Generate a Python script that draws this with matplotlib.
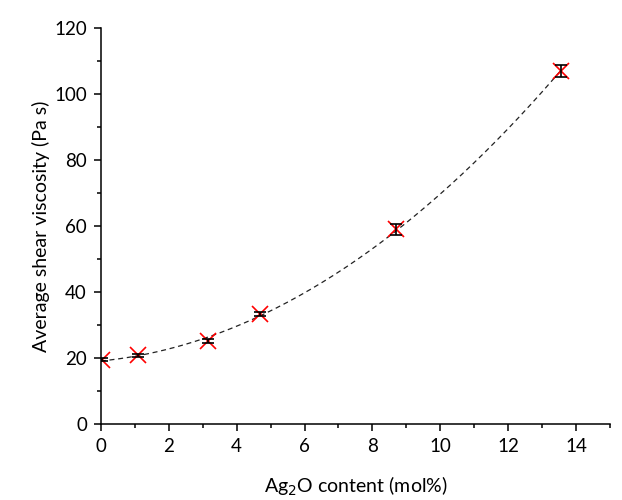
import numpy as np
import matplotlib
matplotlib.use("Agg")
import matplotlib.pyplot as plt
from matplotlib.ticker import MultipleLocator

# Ag2O content (mol%) and average shear viscosity (Pa s)
ag2o = [0.05, 1.1, 3.15, 4.7, 8.7, 13.55]
viscosity = [19.5, 20.8, 25.2, 33.2, 59.0, 107.0]
visc_err = [0.4, 0.5, 0.6, 0.6, 1.6, 1.7]

plt.rcParams['font.family'] = ['Lato', 'DejaVu Sans']

fig = plt.figure(figsize=(6.22, 5.0), dpi=100)
ax = fig.add_axes([0.162, 0.152, 0.819, 0.792])

# quadratic fit through the measured points
coef = np.polyfit(ag2o, viscosity, 2)
xf = np.linspace(0, max(ag2o), 200)
ax.plot(xf, np.polyval(coef, xf), ls=(0, (4, 3)), color='#222222', lw=0.9, zorder=1)

ax.errorbar(ag2o, viscosity, yerr=visc_err, fmt='none', ecolor='black',
            elinewidth=1.2, capsize=4, capthick=1.2, zorder=3)
ax.plot(ag2o, viscosity, 'x', color='red', ms=11, mew=1.2, zorder=2)

ax.set_xlim(0, 15)
ax.set_ylim(0, 120)
ax.xaxis.set_major_locator(MultipleLocator(2))
ax.xaxis.set_minor_locator(MultipleLocator(1))
ax.yaxis.set_major_locator(MultipleLocator(20))
ax.yaxis.set_minor_locator(MultipleLocator(10))

for s in ['top', 'right']:
    ax.spines[s].set_visible(False)
for s in ['left', 'bottom']:
    ax.spines[s].set_linewidth(1.1)

ax.tick_params(which='major', direction='out', length=5, width=1.1, labelsize=13.5, pad=5)
ax.tick_params(which='minor', direction='out', length=3, width=1.1)

ax.set_xlabel('Ag$_2$O content (mol%)', fontsize=14, labelpad=14)
ax.set_ylabel('Average shear viscosity (Pa s)', fontsize=14, labelpad=3)

fig.savefig('out.png', dpi=100)
